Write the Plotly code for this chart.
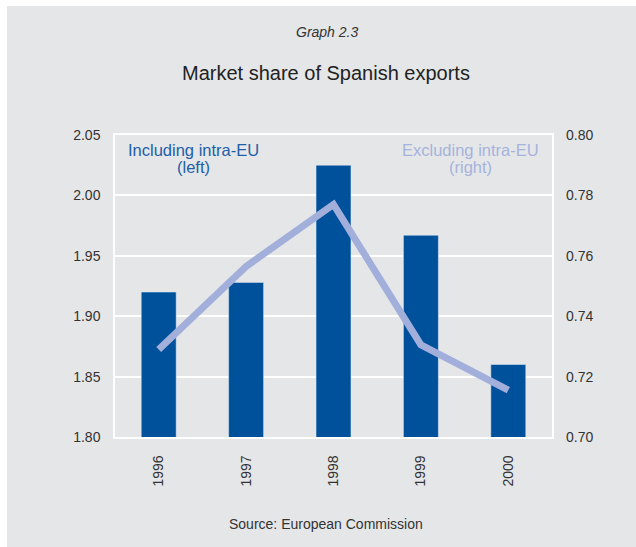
import plotly.graph_objects as go

# Data
years = ["1996", "1997", "1998", "1999", "2000"]
incl_intra_eu = [1.920, 1.928, 2.025, 1.967, 1.860]   # left axis (bars)
excl_intra_eu = [0.729, 0.7565, 0.777, 0.7305, 0.7155]  # right axis (line)
left_ticks = [1.80, 1.85, 1.90, 1.95, 2.00, 2.05]
right_ticks = [0.70, 0.72, 0.74, 0.76, 0.78, 0.80]

W, H = 636, 547
ML, MR, MT, MB = 115, 84, 135, 110
PW, PH = W - ML - MR, H - MT - MB

BG = "#e5e6e8"
BAR = "#00519b"
LINE = "#a2afdb"
TXT = "#333333"
FONT = "Liberation Sans, Arial, sans-serif"


def px(x):
    return (x - ML) / PW


def py(y):
    return (H - MB - y) / PH


fig = go.Figure()
fig.add_trace(go.Bar(x=years, y=incl_intra_eu, marker_color=BAR, width=0.4,
                     name="Including intra-EU"))
fig.add_trace(go.Scatter(x=years, y=excl_intra_eu, yaxis="y2", mode="lines",
                         line=dict(color=LINE, width=7),
                         name="Excluding intra-EU"))

tickfont = dict(family=FONT, size=14, color=TXT)

fig.update_layout(
    width=W, height=H,
    margin=dict(l=ML, r=MR, t=MT, b=MB, pad=0),
    paper_bgcolor=BG,
    plot_bgcolor="rgba(0,0,0,0)",
    showlegend=False,
    bargap=0.6,
    xaxis=dict(type="category", tickangle=-90, tickfont=tickfont,
               showgrid=False, showline=True, mirror=True,
               linecolor="white", linewidth=1.5, ticks="",
               ticklabelstandoff=11),
    yaxis=dict(range=[1.80, 2.05], tickvals=left_ticks,
               ticktext=[f"{v:.2f}" for v in left_ticks],
               tickfont=tickfont, showgrid=True, gridcolor="white",
               gridwidth=1.5, showline=True, mirror=True,
               linecolor="white", linewidth=1.5, zeroline=False,
               ticks="", ticklabelstandoff=10),
    yaxis2=dict(range=[0.70, 0.80], tickvals=right_ticks,
                ticktext=[f"{v:.2f}" for v in right_ticks],
                tickfont=tickfont, overlaying="y", side="right",
                showgrid=False, zeroline=False, showline=False,
                ticks="", ticklabelstandoff=13),
)

# thin white strips along the top and left edges of the page
fig.add_shape(type="rect", xref="paper", yref="paper", layer="below",
              x0=px(-20), x1=px(W + 20), y0=py(6), y1=py(-20),
              fillcolor="white", line_width=0)
fig.add_shape(type="rect", xref="paper", yref="paper", layer="below",
              x0=px(-20), x1=px(7), y0=py(H + 20), y1=py(-20),
              fillcolor="white", line_width=0)

ann = [
    dict(text="<i>Graph 2.3</i>", x=px(327), y=py(32), size=14, color=TXT),
    dict(text="Market share of Spanish exports", x=px(326), y=py(73),
         size=20, color="#222222"),
    dict(text="Source: European Commission", x=px(326), y=py(524),
         size=14, color=TXT),
    dict(text="Including intra-EU", x=px(193), y=py(150), size=16.5,
         color="#1e5ea8"),
    dict(text="(left)", x=px(193), y=py(167), size=16.5, color="#1e5ea8"),
    dict(text="Excluding intra-EU", x=px(470), y=py(150), size=16.5,
         color="#a6b3dc"),
    dict(text="(right)", x=px(470), y=py(167), size=16.5, color="#a6b3dc"),
]
for a in ann:
    fig.add_annotation(text=a["text"], x=a["x"], y=a["y"], xref="paper",
                       yref="paper", xanchor="center", yanchor="middle",
                       showarrow=False,
                       font=dict(family=FONT, size=a["size"], color=a["color"]))

fig.write_html("out.html")
